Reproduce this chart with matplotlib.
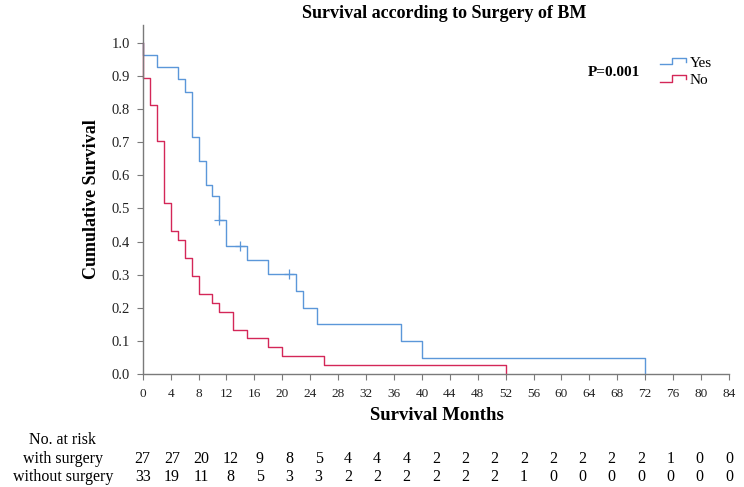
import numpy as np
import matplotlib
matplotlib.use("Agg")
import matplotlib.pyplot as plt
from matplotlib.legend_handler import HandlerBase
from matplotlib.lines import Line2D
from matplotlib.transforms import blended_transform_factory

# Kaplan-Meier steps
yes_t = [0, 0, 2, 5, 6, 7, 8, 9, 10, 11, 12, 15, 18, 22, 23, 25, 37, 40, 72]
yes_s = [1.0, 0.963, 0.926, 0.889, 0.852, 0.714, 0.643, 0.571, 0.536, 0.464,
         0.387, 0.344, 0.301, 0.251, 0.201, 0.151, 0.100, 0.050, 0.0]
yes_cens_t = [11, 14, 21]
yes_cens_s = [0.464, 0.387, 0.301]

no_t = [0, 0, 1, 2, 3, 4, 5, 6, 7, 8, 10, 11, 13, 15, 18, 20, 26, 52]
no_s = [1.0, 0.894, 0.812, 0.703, 0.515, 0.433, 0.405, 0.351, 0.297, 0.243,
        0.216, 0.189, 0.135, 0.108, 0.081, 0.054, 0.027, 0.0]

# numbers at risk
risk_with = [27, 27, 20, 12, 9, 8, 5, 4, 4, 4, 2, 2, 2, 2, 2, 2, 2, 2, 1, 0, 0]
risk_without = [33, 19, 11, 8, 5, 3, 3, 2, 2, 2, 2, 2, 2, 1, 0, 0, 0, 0, 0, 0, 0]

xticks = list(range(0, 85, 4))
yticks = [0.0, 0.1, 0.2, 0.3, 0.4, 0.5, 0.6, 0.7, 0.8, 0.9, 1.0]

BLUE = "#5b97d9"
RED = "#d42758"
SPINE = "#7a7a7a"

plt.rcParams["font.family"] = ["Liberation Serif", "DejaVu Serif"]


class StepHandler(HandlerBase):
    # little step-shaped legend key like the SPSS output
    def create_artists(self, legend, orig_handle, xdescent, ydescent,
                       width, height, fontsize, trans):
        xs = np.array([0.0, 0.45, 0.45, 0.95, 0.95]) * width - xdescent
        ys = np.array([0.25, 0.25, 0.85, 0.85, 0.45]) * height - ydescent
        ln = Line2D(xs, ys, color=orig_handle.get_color(),
                    lw=orig_handle.get_linewidth())
        ln.set_transform(trans)
        return [ln]


W, H = 744, 487
fig = plt.figure(figsize=(W / 100, H / 100), dpi=100)
ax = fig.add_axes([142.7 / W, 1 - 374.3 / H, (729 - 142.7) / W, (374.3 - 25) / H])

l_yes, = ax.step(yes_t, yes_s, where="post", color=BLUE, lw=1.0, clip_on=False, label="Yes")
l_no, = ax.step(no_t, no_s, where="post", color=RED, lw=1.0, clip_on=False, label="No")
ax.plot(yes_cens_t, yes_cens_s, ls="none", marker="+", ms=7, mew=0.9, color=BLUE, clip_on=False)

ax.set_xlim(0, 84)
ax.set_ylim(0, 1.053)
ax.set_xticks(xticks)
ax.set_yticks(yticks)
ax.set_yticklabels([f"{v:.1f}" for v in yticks])
for s in ("top", "right"):
    ax.spines[s].set_visible(False)
for s in ("left", "bottom"):
    ax.spines[s].set_color(SPINE)
    ax.spines[s].set_linewidth(1.0)
ax.tick_params(axis="both", colors=SPINE, length=4, width=0.8,
               labelcolor="#222222")
ax.tick_params(axis="x", pad=6, labelsize=9.5)
ax.tick_params(axis="y", pad=5, labelsize=10.5)

leg = ax.legend(handles=[l_yes, l_no], handler_map={Line2D: StepHandler()},
                loc="upper left", bbox_to_anchor=(660 / W, 1 - 56 / H),
                bbox_transform=fig.transFigure, frameon=False, fontsize=11,
                handlelength=1.8, handletextpad=0.15, labelspacing=0.25,
                borderpad=0, borderaxespad=0)

fig.text(588 / W, 1 - 72 / H, "P=0.001", fontsize=11, fontweight="bold", va="center")
fig.text(444 / W, 1 - 14 / H, "Survival according to Surgery of BM", fontsize=13,
         fontweight="bold", ha="center", va="center")
fig.text(92 / W, 1 - 199 / H, "Cumulative Survival", fontsize=13, fontweight="bold",
         rotation=90, ha="center", va="center")
fig.text(437 / W, 1 - 416 / H, "Survival Months", fontsize=13.5, fontweight="bold",
         ha="center", va="center")

# at-risk table under the axis
fig.text(63 / W, 1 - 440 / H, "No. at risk", fontsize=11.5, ha="center", va="center")
fig.text(63 / W, 1 - 459 / H, "with surgery", fontsize=11.5, ha="center", va="center")
fig.text(63 / W, 1 - 477 / H, "without surgery", fontsize=11.5, ha="center", va="center")
tr = blended_transform_factory(ax.transData, fig.transFigure)
cols = np.linspace(0, 84, len(risk_with))
for x, a, b in zip(cols, risk_with, risk_without):
    ax.text(x, 1 - 459 / H, str(a), transform=tr, fontsize=11.5, ha="center", va="center", clip_on=False)
    ax.text(x, 1 - 477 / H, str(b), transform=tr, fontsize=11.5, ha="center", va="center", clip_on=False)

fig.savefig("out.png", dpi=100)
